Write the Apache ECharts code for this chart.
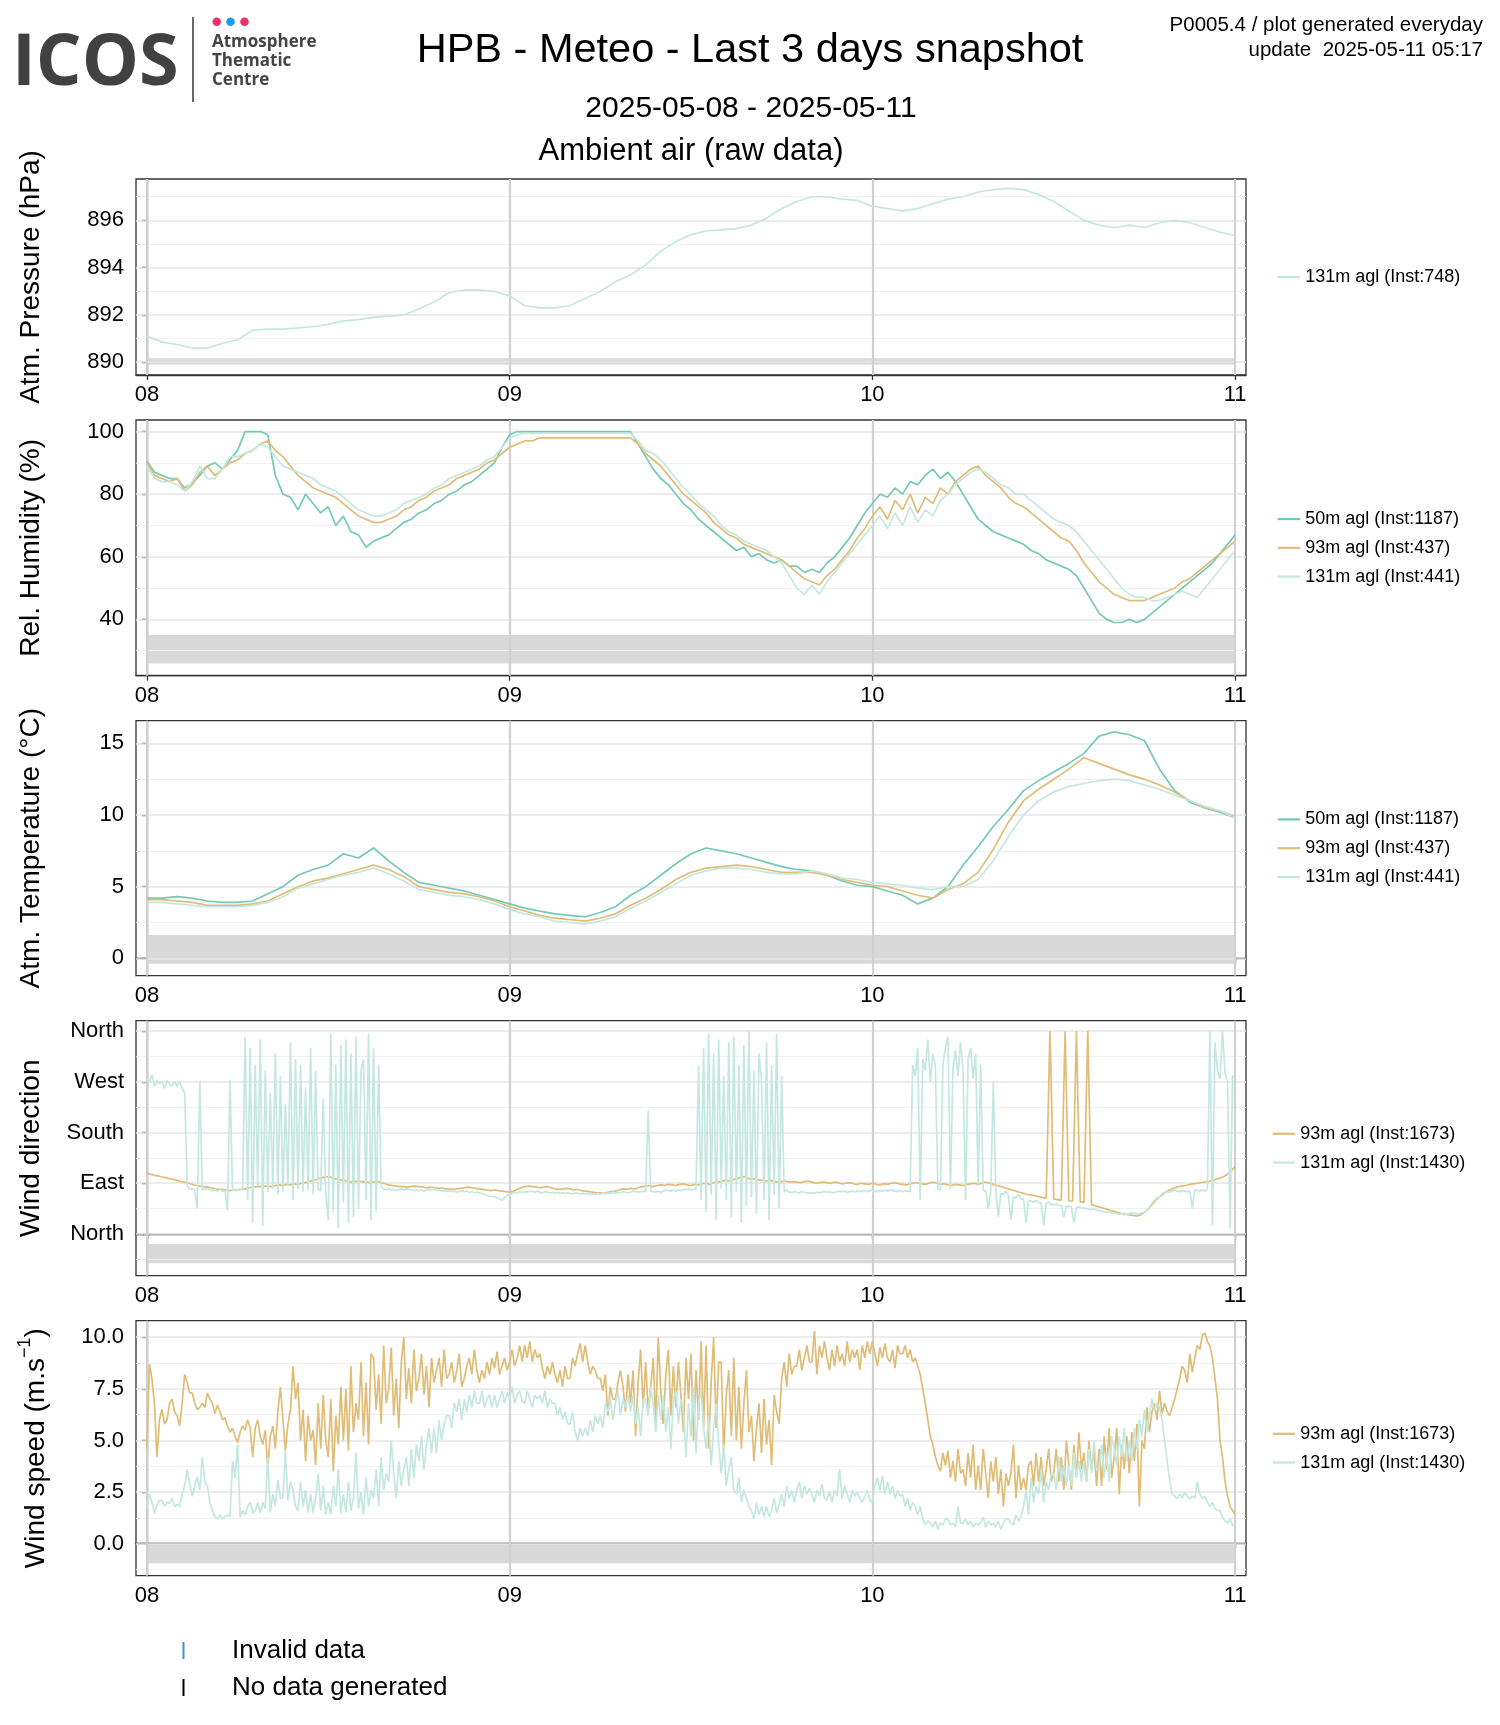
<!DOCTYPE html>
<html><head><meta charset="utf-8">
<script src="https://cdn.jsdelivr.net/npm/echarts@6.0.0/dist/echarts.min.js"></script>
<style>html,body{margin:0;padding:0;background:#fff}#c{width:1500px;height:1725px}</style>
</head><body><div id="c"></div>
<script>
// ---------- DATA ----------
const dayLabels = ['08','09','10','11'];
const dayTicks = [0,24,48,72];            // hours since 2025-05-08 00:00
const stepHourly = 1, stepHalf = 0.5, stepQuarter = 0.25, stepTen = 1/6;

const pressure131 = [891.1,890.85,890.75,890.6,890.6,890.8,890.95,891.35,891.4,891.4,891.45,891.5,891.6,891.75,891.8,891.9,891.95,892.0,892.25,892.55,892.95,893.05,893.05,893.0,
892.8,892.4,892.3,892.3,892.4,892.7,893.0,893.4,893.7,894.1,894.7,895.1,895.4,895.55,895.6,895.65,895.8,896.1,896.5,896.8,897.0,897.0,896.9,896.85,
896.6,896.5,896.4,896.5,896.7,896.9,897.0,897.2,897.3,897.35,897.3,897.1,896.8,896.4,896.0,895.8,895.7,895.8,895.7,895.9,896.0,895.9,895.7,895.5,895.35];

// relative humidity %, 30-min steps
const rh50 = [90.5,87,86,85,85,82,83.5,86,89,90,88,91,94,100,100,100,99,86,80,79,75,80,77,74,76,70,73,68,67,63,65,66,67,69,71,72,74,75,77,78,80,81,83,84,86,88,90,95,
99,100,100,100,100,100,100,100,100,100,100,100,100,100,100,100,100,96,92,88,85,83,80,77,75,72,70,68,66,64,62,63,60,61,59,58,59,57,57,55,56,55,58,60,63,66,70,74,
77,80,79,82,80,84,83,86,88,85,87,84,80,76,72,70,68,67,66,65,64,62,61,59,58,57,56,54,50,46,42,40,39,39,40,39,40,42,44,46,48,50,52,54,56,58,61,64,67];
const rh93 = [90,86,85,84,85,81,83,87,89,86,88,90,91,93,94,96,97,94,92,89,86,84,82,81,80,79,77,75,73,72,71,71,72,73,75,76,78,79,81,82,83,85,86,87,88,90,91,93,
95,96,97,97,98,98,98,98,98,98,98,98,98,98,98,98,98,96,93,91,89,86,83,80,78,76,74,71,69,67,66,64,63,62,61,60,59,57,55,53,52,51,54,56,59,62,66,69,
73,76,72,78,75,80,74,79,77,82,80,84,86,88,89,86,84,82,79,77,76,74,72,70,68,66,65,62,58,55,52,50,48,47,46,46,46,47,48,49,50,52,53,55,57,59,61,63,65];
const rh131 = [89,85,84,84,83,81,84,89,85,85,88,92,92,93,94,96,95,92,89,88,87,86,85,83,82,81,79,77,75,74,73,73,74,75,77,78,79,80,82,83,85,86,87,88,89,91,92,95,
98,99,99.5,99.5,99.5,99.5,99.5,99.5,99.5,99.5,99.5,99.5,99.5,99.5,99.5,99.5,99.5,97,94,93,91,88,85,82,80,77,75,73,70,68,67,65,64,63,62,60,58,54,50,48,51,48,52,55,58,61,64,67,
70,73,69,74,70,76,71,75,73,78,80,83,85,87,88,87,85,83,82,80,80,78,76,74,72,71,70,68,65,62,59,56,53,50,48,47,47,46,46,47,48,49,48,47,50,53,56,59,62];

// air temperature °C, hourly
const t50 = [4.2,4.2,4.3,4.2,4.0,3.9,3.9,4.0,4.5,5.0,5.8,6.2,6.5,7.3,7.0,7.7,6.8,6.0,5.3,5.1,4.9,4.7,4.4,4.1,
3.8,3.5,3.3,3.1,3.0,2.9,3.2,3.6,4.4,5.0,5.8,6.6,7.3,7.7,7.5,7.3,7.0,6.7,6.4,6.2,6.1,5.8,5.4,5.1,
5.0,4.7,4.4,3.8,4.2,5.0,6.5,7.8,9.2,10.4,11.7,12.4,13.0,13.6,14.3,15.5,15.8,15.6,15.2,13.2,11.7,10.9,10.5,10.2,9.8];
const t93 = [4.1,4.1,4.0,3.9,3.7,3.7,3.7,3.8,4.0,4.5,5.0,5.4,5.6,5.9,6.2,6.5,6.2,5.7,5.0,4.8,4.6,4.5,4.3,4.0,
3.6,3.3,3.0,2.8,2.7,2.6,2.8,3.1,3.7,4.2,4.8,5.5,6.0,6.3,6.4,6.5,6.4,6.2,6.0,6.0,6.0,5.8,5.5,5.3,
5.1,5.0,4.7,4.4,4.2,4.8,5.2,6.0,7.6,9.5,11.0,11.8,12.5,13.2,14.0,13.6,13.2,12.8,12.5,12.1,11.6,11.0,10.5,10.3,9.9];
const t131 = [3.9,3.9,3.8,3.7,3.6,3.6,3.6,3.7,3.9,4.3,4.9,5.2,5.5,5.8,6.0,6.3,5.9,5.4,4.8,4.6,4.4,4.3,4.1,3.8,
3.4,3.1,2.9,2.6,2.5,2.4,2.6,2.9,3.5,4.0,4.6,5.2,5.8,6.1,6.3,6.3,6.2,6.0,5.9,5.9,6.1,5.9,5.6,5.5,
5.3,5.2,5.1,4.9,4.8,5.0,5.0,5.5,6.8,8.5,10.0,11.0,11.6,12.0,12.2,12.4,12.5,12.4,12.1,11.8,11.4,11.0,10.6,10.3,9.8];

// wind direction in degrees (0 = North, 90 = East ...)
const wd93 = [108,106,104,103, 101,100,98,97, 95,93,92,90, 88,86,85,84, 83,82,80,79, 79,78,77,78,
78,79,80,82, 83,84,84,85, 85,84,86,87, 86,88,87,89, 88,90,91,93, 95,97,99,101, 102,100,98,96,
95,94,92,93, 94,93,92,91, 92,93,91,89, 87,86,85,84, 84,83,84,85, 84,83,82,83, 82,81,82,80,
80,79,80,81, 82,83,82,81, 80,79,78,77, 78,77,76,75,
74,76,79,82, 84,85,84,83, 82,83,84,82, 80,79,80,81, 80,78,79,77, 76,75,74,73, 73,72,74,75,
76,78,80,79, 81,80,82,84, 85,86,84,86, 87,86,88,87, 86,88,89,87, 86,88,87,89, 90,88,91,92,
93,95,94,96, 98,100,102,99, 97,98,96,95, 94,95,93,92, 93,94,92,93, 92,91,93,94, 92,90,91,92,
91,90,92,91, 89,90,91,89, 88,90,89,88,
90,88,87,89, 88,90,91,89, 88,87,89,90, 91,89,88,90, 92,90,88,89, 87,86,88,87, 86,88,89,90,
88,90,92,90, 88,86,84,82, 80,78,76,74, 72,70,69,68, 66,65,63,360, 62,61,60,359, 59,58,360,57,
56,360,52,50, 48,46,44,42, 40,38,36,35, 34,33,32,34, 38,44,52,60, 66,72,76,79, 82,84,85,86,
88,89,90,91, 92,93,95,97, 99,102,106,112, 120];   // 15-min steps
const wd131 = [275,268,282,262,272,266, 270,258,272,266,262,270, 262,270,258,250,85,80, 80,78,45,270,78,80, 80,79,77,78,76,79, 76,78,42,273,77,78,
78,80,79,350,60,330, 20,300,85,345,15,290, 75,250,80,320,70,280, 75,230,85,340,60,310, 80,300,75,260,78,330, 70,290,80,76,240,72,
25,355,40,300,10,335, 55,345,20,320,30,350, 45,290,310,60,355,25, 330,40,300,85,80,78, 80,78,79,77,78,80, 78,80,79,78,77,78,
77,78,76,78,79,77, 79,77,78,76,77,75, 77,75,76,74,75,76, 75,76,74,75,73,74, 73,72,70,68,67,66, 66,64,62,60,65,68,
70,72,74,73,75,74, 75,74,76,75,74,76, 74,73,75,74,73,74, 73,74,72,73,72,73, 72,71,73,72,71,72, 71,72,70,71,70,72,
70,72,71,73,72,74, 72,74,73,75,74,73, 74,76,75,74,75,76, 75,219,76,75,74,76, 74,76,78,77,76,78, 76,78,77,79,78,80,
78,80,79,300,60,330, 40,355,70,320,25,345, 80,280,60,340,30,350, 75,300,20,335,50,360, 65,290,35,320,270,60, 340,25,300,70,355,45,
280,75,78,74,73,75, 74,73,75,74,73,72, 73,72,74,73,74,75, 74,75,73,74,75,76, 75,76,74,75,76,75, 76,75,77,76,75,77,
77,76,75,77,76,78, 76,78,77,76,75,77, 75,77,76,75,300,280, 330,60,310,290,345,270, 320,300,80,78,300,330, 350,80,295,325,280,340,
290,60,310,330,275,320, 85,300,78,76,45,75, 270,74,30,72,70,76, 68,25,66,64,70,62, 62,20,60,58,56,60, 56,55,15,54,57,52,
52,53,51,50,30,49, 49,48,20,47,48,46, 46,45,44,43,45,42, 42,40,39,38,40,37, 37,36,35,36,34,35, 36,38,37,35,36,38,
38,42,48,55,60,64, 66,68,72,75,74,76, 78,76,75,77,76,75, 76,45,78,77,76,78, 76,80,360,15,340,290, 275,360,285,270,10,280, 280];   // 10-min steps

// wind speed m/s, 10-min steps
const ws93 = [4.6,8.7,8.0,6.8,4.2,6.0, 6.5,5.8,6.0,6.8,7.0,6.4, 6.2,5.7,6.8,8.2,7.8,7.3, 7.3,6.8,6.5,6.6,6.8,6.6, 7.3,7.0,6.8,6.3,6.7,6.4, 6.0,6.1,5.7,5.4,5.6,5.2,
4.9,5.4,5.7,5.5,6.0,5.6, 4.2,5.6,6.0,5.2,4.8,5.5, 3.7,5.2,5.7,4.6,6.4,7.6, 6.0,4.5,5.8,6.5,8.6,7.0, 7.8,5.0,6.5,4.0,6.2,5.0, 5.5,3.8,6.8,4.6,7.2,5.0,
4.2,7.0,3.5,6.2,4.8,7.6, 5.0,7.5,4.5,8.6,5.4,6.8, 6.0,8.8,5.2,7.8,4.8,9.2, 9.0,6.5,8.2,5.8,9.6,6.8, 7.5,9.5,6.2,8.0,5.6,8.8, 10.0,7.0,8.5,6.8,9.4,7.4,
8.0,9.2,7.2,8.6,6.6,9.0, 7.8,8.4,9.0,7.6,9.4,8.0, 8.2,8.8,7.8,8.4,9.2,7.6, 8.0,8.6,9.0,8.2,9.4,8.4, 7.8,8.4,8.0,8.8,8.2,9.0, 8.5,9.3,8.2,8.6,9.0,8.4,
8.8,9.4,8.6,9.0,9.6,8.8, 9.6,9.0,9.8,8.8,9.4,9.0, 9.2,8.5,8.0,8.6,8.2,8.8, 8.2,7.8,8.4,7.6,8.6,8.0, 8.0,9.0,8.6,9.2,9.7,8.8, 9.6,8.8,8.2,8.6,8.4,8.0,
8.0,7.4,8.2,6.2,7.6,7.0, 7.0,7.8,8.4,7.6,6.4,8.2, 6.8,8.4,5.2,7.8,9.4,6.6, 8.8,6.4,7.6,9.0,5.8,10.0, 7.4,5.8,8.2,9.4,6.2,8.6, 6.6,8.8,7.2,5.4,9.0,7.0,
9.2,5.0,8.4,6.0,9.8,5.6, 9.6,4.6,7.8,10.0,5.6,8.8, 8.8,4.2,7.2,8.4,5.2,9.0, 5.0,7.6,4.6,6.8,8.4,5.4, 6.2,4.0,5.6,6.8,4.4,7.0, 4.8,6.0,3.8,7.2,6.4,5.8,
8.0,8.8,7.6,9.2,8.2,8.6, 8.6,9.4,8.4,9.0,9.6,8.8, 8.8,10.3,8.2,9.6,9.0,9.8, 9.0,8.4,9.4,8.6,9.6,8.8, 9.2,8.6,9.8,8.8,9.4,9.0, 9.4,8.4,9.6,9.0,9.8,9.2,
9.8,9.2,8.6,9.5,9.0,9.7, 9.0,8.8,9.4,8.5,9.6,9.2, 9.2,9.6,9.0,9.4,8.8,9.0, 8.6,8.2,7.5,6.8,6.0,5.2, 4.8,4.2,3.8,3.5,4.4,3.8, 4.5,3.2,4.0,3.0,4.6,3.4,
3.6,2.8,4.4,3.2,4.8,2.6, 3.8,2.6,4.6,3.4,2.2,4.0, 3.0,4.2,2.4,3.6,1.8,3.4, 2.8,3.4,4.8,2.2,3.8,2.6, 3.2,2.6,3.8,4.0,2.8,4.4, 3.0,4.2,2.8,3.6,4.6,3.0,
3.4,4.6,3.0,4.2,2.6,5.0, 3.8,2.6,4.8,3.2,5.4,3.6, 4.4,3.0,5.0,3.6,4.6,2.8, 4.6,2.8,5.2,3.6,5.6,3.2, 4.2,5.6,2.4,4.8,3.6,5.2, 3.4,5.4,4.0,5.8,1.8,5.0,
4.6,6.6,5.4,6.4,6.8,6.0, 7.4,6.3,6.8,6.4,6.2,6.6, 7.0,7.5,8.0,8.6,8.4,7.8, 9.2,8.3,9.0,9.6,9.4,10.1, 10.2,9.8,9.6,9.0,8.0,7.0, 5.0,4.2,3.0,2.3,1.8,1.6, 1.4];
const ws131 = [1.7,2.4,2.0,1.5,1.9,2.1, 2.1,1.8,2.0,1.95,2.2,1.8, 1.9,1.8,2.4,2.8,3.6,2.9, 2.3,2.8,3.25,2.6,4.2,3.0, 2.8,2.0,1.6,1.3,1.2,1.4, 1.2,1.3,1.4,1.3,4.0,3.2,
4.8,1.3,1.6,1.4,1.8,2.0, 1.5,1.6,2.0,1.5,2.0,1.7, 4.2,1.5,2.4,1.8,3.1,2.2, 2.2,4.5,2.1,3.0,2.6,1.8, 1.6,3.0,1.8,2.6,1.5,2.4, 1.5,2.2,3.4,1.6,2.8,1.4,
2.0,1.4,2.8,1.8,3.6,1.5, 2.4,1.5,3.0,1.6,2.2,4.4, 1.7,2.5,1.4,3.2,1.8,2.6, 2.2,3.6,1.8,4.2,2.6,3.4, 3.0,5.0,3.4,2.2,4.0,2.8, 3.6,4.2,2.8,4.6,3.2,4.8,
4.0,5.2,3.6,4.8,5.6,4.4, 5.6,4.4,6.0,5.0,5.8,6.2, 6.2,5.6,6.8,6.4,7.0,6.0, 7.0,6.4,7.2,6.6,7.4,6.8, 6.8,7.4,6.6,7.0,7.2,6.6, 7.2,6.6,7.0,7.4,6.8,7.3,
7.0,7.6,6.8,7.2,7.4,6.9, 6.8,7.4,7.0,6.6,7.2,7.0, 7.2,6.8,7.4,6.6,7.0,6.8, 6.8,6.2,6.6,6.0,6.4,5.8, 5.8,6.4,5.4,5.0,5.6,5.2, 5.6,5.2,6.0,5.4,6.2,5.8,
6.2,5.6,6.8,6.4,7.0,6.0, 6.8,7.4,6.2,7.0,6.6,7.2, 6.4,7.2,5.8,6.6,5.2,7.0, 7.0,6.2,7.6,6.8,5.4,7.2, 6.0,7.2,5.4,6.6,4.6,7.0, 7.4,5.8,7.0,6.4,4.2,6.8,
5.2,7.6,4.4,6.8,7.4,5.6, 4.6,6.2,3.8,5.6,6.8,4.8, 3.4,4.8,2.8,3.6,4.2,2.6, 2.4,3.2,2.0,2.6,2.2,1.8, 1.6,1.2,2.0,1.4,1.8,1.3, 1.8,1.3,1.6,2.2,1.5,1.9,
2.4,1.8,2.8,2.2,2.6,2.0, 2.6,3.0,2.2,2.8,2.4,2.7, 2.4,2.0,2.6,2.3,2.9,2.2, 2.1,2.5,2.0,2.6,2.3,3.6, 2.2,2.8,2.4,2.0,2.6,2.3, 2.5,2.2,2.0,2.3,2.6,2.1,
2.0,2.8,3.2,2.6,3.3,2.4, 3.0,2.4,2.8,2.2,2.6,2.3, 2.4,1.8,2.2,1.6,2.0,1.8, 1.4,1.8,1.2,0.9,1.1,1.0, 0.8,1.1,0.7,1.0,0.9,1.2, 1.2,0.9,1.0,0.8,1.8,1.0,
1.0,1.2,0.9,1.1,0.8,1.0, 0.9,1.0,1.3,0.8,1.1,0.9, 1.0,0.8,1.1,0.7,1.0,1.2, 1.2,1.0,0.9,1.4,1.1,1.3, 1.8,2.6,1.4,3.2,2.0,2.8, 2.4,3.6,2.0,3.0,2.6,3.4,
3.4,2.6,4.2,3.0,3.8,2.8, 3.8,2.8,4.4,3.2,4.0,3.0, 4.0,3.0,4.6,3.4,5.0,3.6, 3.6,4.8,3.2,4.4,3.0,5.2, 4.6,3.8,5.2,4.2,5.6,4.0, 5.0,4.0,5.6,4.6,6.0,5.2,
6.5,5.4,6.2,7.0,6.4,6.8, 6.6,6.0,5.0,4.0,3.1,2.4, 2.3,2.2,2.4,2.2,2.5,2.3, 2.2,2.3,2.2,3.0,2.4,2.2, 2.3,2.0,1.8,2.0,1.7,1.6, 1.6,1.3,1.1,1.0,1.2,0.9, 0.9];

// ---------- STYLE / LAYOUT ----------
const C50 = '#74c9b8', C93 = '#e0bd76', C131 = '#c4e8e0';
const FONT = 'Liberation Sans';
const L = 136, R = 1246;
const panels = [
  {top:179, bottom:375, min:889.46, max:897.75, major:[890,892,894,896], minor:[891,893,895,897], band:[889.89,890.17],
   labels:null, name:'Atm. Pressure (hPa)', legendLeft:1277.7,
   series:[{name:'131m agl (Inst:748)', data:pressure131, step:stepHourly, color:C131}]},
  {top:420, bottom:675.7, min:22.0, max:103.7, major:[40,60,80,100], minor:[30,50,70,90], band:[25.9,35.0],
   labels:null, name:'Rel. Humidity (%)', legendLeft:1277.7,
   series:[{name:'50m agl (Inst:1187)', data:rh50, step:stepHalf, color:C50},
           {name:'93m agl (Inst:437)', data:rh93, step:stepHalf, color:C93},
           {name:'131m agl (Inst:441)', data:rh131, step:stepHalf, color:C131}]},
  {top:720.7, bottom:975.7, min:-1.21, max:16.58, major:[0,5,10,15], minor:[2.5,7.5,12.5], band:[-0.38,1.63],
   labels:null, name:'Atm. Temperature (°C)', legendLeft:1277.7,
   series:[{name:'50m agl (Inst:1187)', data:t50, step:stepHourly, color:C50},
           {name:'93m agl (Inst:437)', data:t93, step:stepHourly, color:C93},
           {name:'131m agl (Inst:441)', data:t131, step:stepHourly, color:C131}]},
  {top:1020.7, bottom:1275.7, min:-74, max:378.3, major:[0,90,180,270,360], minor:[-45,45,135,225,315], band:[-52,-17.7],
   labels:['North','East','South','West','North'], name:'Wind direction', legendLeft:1272.7,
   series:[{name:'93m agl (Inst:1673)', data:wd93, step:stepQuarter, color:C93},
           {name:'131m agl (Inst:1430)', data:wd131, step:stepTen, color:C131}]},
  {top:1320.7, bottom:1575.7, min:-1.55, max:10.80, major:[0,2.5,5,7.5,10], minor:[-1.25,1.25,3.75,6.25,8.75], band:[-0.95,0],
   labels:['0.0','2.5','5.0','7.5','10.0'], name:null, legendLeft:1272.7,
   series:[{name:'93m agl (Inst:1673)', data:ws93, step:stepTen, color:C93},
           {name:'131m agl (Inst:1430)', data:ws131, step:stepTen, color:C131}]}
];

const grid=[], xAxis=[], yAxis=[], series=[], legend=[], graphic=[];
panels.forEach((p,i)=>{
  grid.push({left:L, width:R-L, top:p.top, height:p.bottom-p.top, show:true, borderColor:'#333', borderWidth:1.3, backgroundColor:'#fff', containLabel:false});
  xAxis.push({gridIndex:i, type:'value', min:-0.72, max:72.72,
    axisLine:{show:true, lineStyle:{color:'#333', width:1.3}},
    splitLine:{show:false},
    axisTick:{show:true, customValues:dayTicks, length:5, lineStyle:{color:'#333', width:1.3}},
    axisLabel:{show:true, customValues:dayTicks, formatter:v=>dayLabels[dayTicks.indexOf(v)], color:'#000', fontSize:22, fontFamily:FONT, margin:9}});
  yAxis.push({gridIndex:i, type:'value', min:p.min, max:p.max,
    axisLine:{show:true, lineStyle:{color:'#333', width:1.3}},
    splitLine:{show:false},
    axisTick:{show:true, customValues:p.major, length:5, lineStyle:{color:'#333', width:1.3}},
    axisLabel:{show:true, customValues:p.major, color:'#000', fontSize:22, fontFamily:FONT, margin:12,
      formatter: v => p.labels ? p.labels[p.major.indexOf(v)] : String(v)}});
  const gridLines = [];
  p.minor.forEach(v=>gridLines.push({yAxis:v, lineStyle:{color:'#f1f1f1', width:1.1, type:'solid'}}));
  p.major.forEach(v=>gridLines.push({yAxis:v, lineStyle:{color:'#e6e6e6', width:1.6, type:'solid'}}));
  dayTicks.forEach(v=>gridLines.push({xAxis:v, lineStyle:{color:'#d0d0d0', width:2.2, type:'solid'}}));
  p.series.forEach((s,k)=>{
    const ser = {type:'line', name:s.name, xAxisIndex:i, yAxisIndex:i, z:3,
      data:s.data.map((v,j)=>[j*s.step, v]),
      showSymbol:false, symbol:'none', animation:false, clip:true,
      lineStyle:{color:s.color, width:1.7}, itemStyle:{color:s.color}};
    if(k===0){
      ser.markArea = {silent:true, z:1, animation:false, itemStyle:{color:'#d9d9d9'},
        data:[[{xAxis:0, yAxis:p.band[0]},{xAxis:72, yAxis:p.band[1]}]]};
      ser.markLine = {silent:true, z:2, animation:false, symbol:['none','none'], label:{show:false},
        lineStyle:{type:'solid'}, data:gridLines};
    }
    series.push(ser);
  });
  const n = p.series.length, itemH = 18, gap = 10.8;
  const center = (p.top+p.bottom)/2;
  legend.push({orient:'vertical', left:p.legendLeft, top:center-(n*itemH+(n-1)*gap)/2,
    icon:'rect', itemWidth:22.5, itemHeight:2.2, itemGap:gap, selectedMode:false, padding:0,
    textStyle:{fontSize:18, fontFamily:FONT, color:'#000', lineHeight:18},
    data:p.series.map(s=>s.name)});
  if(p.name){
    graphic.push({type:'text', x:31, y:center, rotation:Math.PI/2,
      style:{text:p.name, fontSize:28, fontFamily:FONT, fill:'#000', textAlign:'center', textVerticalAlign:'middle'}});
  }
});
// wind speed axis title with superscript
graphic.push({type:'text', x:33, y:(1320.7+1575.7)/2, rotation:Math.PI/2,
  style:{text:'{a|Wind speed (m.s}{b|−1}{a|)}', textAlign:'center', textVerticalAlign:'middle',
    rich:{a:{fontSize:28, fontFamily:FONT, fill:'#000', lineHeight:34, verticalAlign:'bottom'},
          b:{fontSize:18, fontFamily:FONT, fill:'#000', lineHeight:34, verticalAlign:'top'}}}});

// header: logo
graphic.push({type:'text', x:12, y:64, style:{text:'ICOS', fontSize:72, fontWeight:'bold', fontFamily:'Open Sans', fill:'#414141', textAlign:'left', textVerticalAlign:'middle'}});
graphic.push({type:'line', shape:{x1:193, y1:17, x2:193, y2:102}, style:{stroke:'#444', lineWidth:1.6}});
[[216.7,'#e6336c'],[230.5,'#1e9bf0'],[244.5,'#e6336c']].forEach(d=>graphic.push({type:'circle', shape:{cx:d[0], cy:21.7, r:4.3}, style:{fill:d[1]}}));
[['Atmosphere',42.2],['Thematic',61],['Centre',79.8]].forEach(t=>graphic.push({type:'text', x:212, y:t[1],
  style:{text:t[0], fontSize:17, fontWeight:'bold', fontFamily:'Open Sans', fill:'#444', textAlign:'left', textVerticalAlign:'middle'}}));
// titles
graphic.push({type:'text', x:750, y:51, style:{text:'HPB - Meteo - Last 3 days snapshot', fontSize:41.5, fontFamily:FONT, fill:'#000', textAlign:'center', textVerticalAlign:'middle'}});
graphic.push({type:'text', x:751, y:109, style:{text:'2025-05-08 - 2025-05-11', fontSize:30, fontFamily:FONT, fill:'#000', textAlign:'center', textVerticalAlign:'middle'}});
graphic.push({type:'text', x:691, y:151, style:{text:'Ambient air (raw data)', fontSize:31, fontFamily:FONT, fill:'#000', textAlign:'center', textVerticalAlign:'middle'}});
graphic.push({type:'text', x:1483, y:25, style:{text:'P0005.4 / plot generated everyday', fontSize:20.5, fontFamily:FONT, fill:'#000', textAlign:'right', textVerticalAlign:'middle'}});
graphic.push({type:'text', x:1483, y:50.5, style:{text:'update  2025-05-11 05:17', fontSize:20.5, fontFamily:FONT, fill:'#000', textAlign:'right', textVerticalAlign:'middle'}});
// bottom legend
graphic.push({type:'line', shape:{x1:183.5, y1:1642, x2:183.5, y2:1659}, style:{stroke:'#3f8fd6', lineWidth:2}});
graphic.push({type:'line', shape:{x1:183.5, y1:1679, x2:183.5, y2:1696}, style:{stroke:'#000', lineWidth:2}});
graphic.push({type:'text', x:232, y:1650.5, style:{text:'Invalid data', fontSize:26, fontFamily:FONT, fill:'#000', textAlign:'left', textVerticalAlign:'middle'}});
graphic.push({type:'text', x:232, y:1687.5, style:{text:'No data generated', fontSize:26, fontFamily:FONT, fill:'#000', textAlign:'left', textVerticalAlign:'middle'}});

const chart = echarts.init(document.getElementById('c'), null, {renderer:'canvas', width:1500, height:1725});
chart.setOption({backgroundColor:'#fff', animation:false, grid, xAxis, yAxis, series, legend, graphic});
</script></body></html>
